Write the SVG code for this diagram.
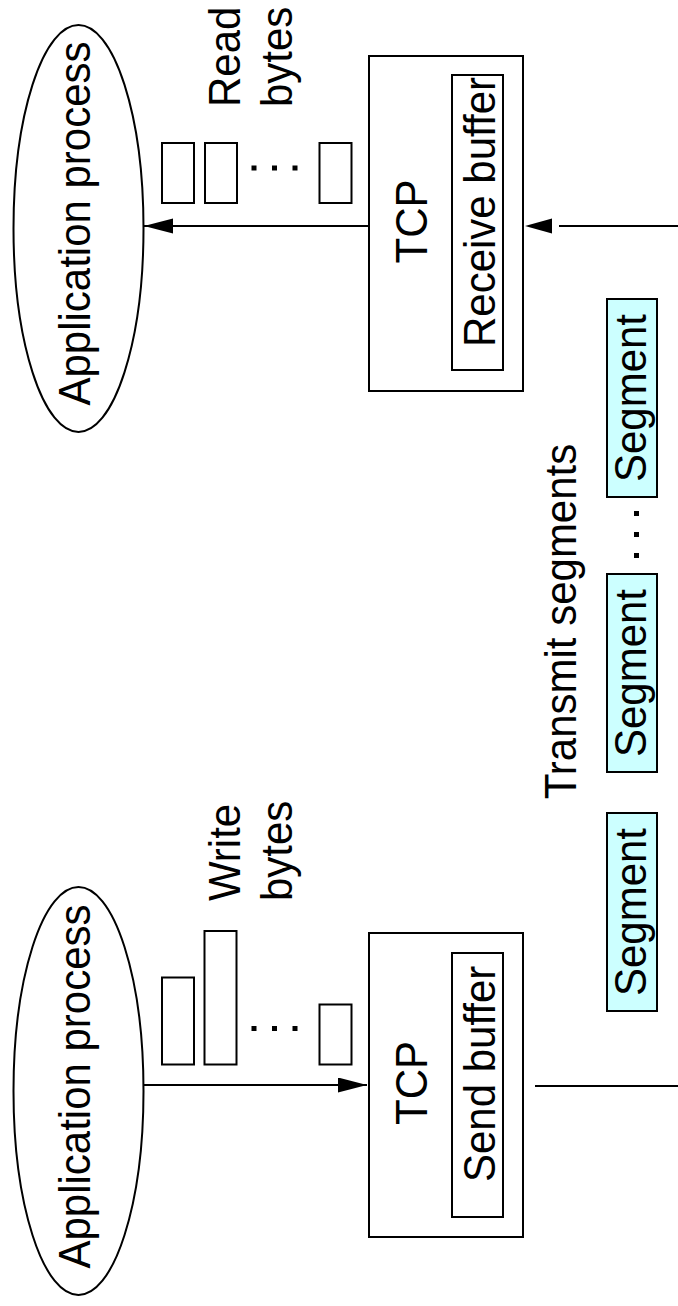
<svg xmlns="http://www.w3.org/2000/svg" width="678" height="1306" viewBox="0 0 678 1306">
  <style>
    text { font-family: "Liberation Sans", Arial, sans-serif; font-size: 42px; fill: #000; }
    .box { fill: #fff; stroke: #000; stroke-width: 2; }
    .seg { fill: #ccffff; stroke: #000; stroke-width: 2; }
    .byte { fill: #fff; stroke: #000; stroke-width: 2; }
    .wire { fill: none; stroke: #000; stroke-width: 2; }
    .dot { fill: #000; }
  </style>
  <defs>
    <marker id="arrow" markerUnits="userSpaceOnUse" markerWidth="30" markerHeight="16" refX="29" refY="7.5" orient="auto">
      <path d="M0,0 L29,7.5 L0,15 Z" fill="#000"/>
    </marker>
  </defs>

  <!-- receiving host (top) -->
  <g id="app-recv">
    <ellipse cx="78.5" cy="228.5" rx="65" ry="203.5" class="box"/>
    <text transform="translate(90,223.5) rotate(-90) scale(1,1.06)" text-anchor="middle">Application process</text>
  </g>
  <g id="tcp-recv">
    <rect x="369" y="56" width="154" height="335" class="box"/>
    <text transform="translate(427,221.5) rotate(-90) scale(1,1.06)" text-anchor="middle">TCP</text>
    <rect x="452" y="75" width="51" height="295" class="box"/>
    <text transform="translate(495,347) rotate(-90) scale(1,1.06)">Receive buffer</text>
  </g>
  <g id="read-bytes">
    <rect x="162" y="143" width="32" height="60" class="byte"/>
    <rect x="205" y="143" width="32" height="60" class="byte"/>
    <rect x="251.5" y="165.5" width="5" height="5" class="dot"/>
    <rect x="272" y="165.5" width="5" height="5" class="dot"/>
    <rect x="292.5" y="165.5" width="5" height="5" class="dot"/>
    <rect x="319.5" y="143" width="32" height="60" class="byte"/>
    <text transform="translate(240,107) rotate(-90) scale(1,1.06)">Read</text>
    <text transform="translate(292,107) rotate(-90) scale(1,1.06)">bytes</text>
  </g>

  <!-- sending host (bottom) -->
  <g id="app-send">
    <ellipse cx="78.5" cy="1091" rx="65" ry="204" class="box"/>
    <text transform="translate(90,1086.5) rotate(-90) scale(1,1.06)" text-anchor="middle">Application process</text>
  </g>
  <g id="tcp-send">
    <rect x="369" y="933" width="154" height="304" class="box"/>
    <text transform="translate(427,1083) rotate(-90) scale(1,1.06)" text-anchor="middle">TCP</text>
    <rect x="452" y="953" width="51" height="264" class="box"/>
    <text transform="translate(495,1182) rotate(-90) scale(1,1.06)">Send buffer</text>
  </g>
  <g id="write-bytes">
    <rect x="162" y="977.5" width="32" height="87" class="byte"/>
    <rect x="204.5" y="931" width="32" height="133.5" class="byte"/>
    <rect x="251.5" y="1026" width="5" height="5" class="dot"/>
    <rect x="272" y="1026" width="5" height="5" class="dot"/>
    <rect x="292.5" y="1026" width="5" height="5" class="dot"/>
    <rect x="319.5" y="1004.5" width="32" height="60" class="byte"/>
    <text transform="translate(240,901) rotate(-90) scale(1,1.06)">Write</text>
    <text transform="translate(292,901) rotate(-90) scale(1,1.06)">bytes</text>
  </g>

  <!-- segments in transit -->
  <g id="segments">
    <text transform="translate(576,621.5) rotate(-90) scale(1,1.06)" text-anchor="middle">Transmit segments</text>
    <rect x="607" y="813" width="50" height="198" class="seg"/>
    <text transform="translate(646,912) rotate(-90) scale(1,1.06)" text-anchor="middle">Segment</text>
    <rect x="607" y="574" width="50" height="198" class="seg"/>
    <text transform="translate(646,673) rotate(-90) scale(1,1.06)" text-anchor="middle">Segment</text>
    <rect x="634" y="511" width="5" height="5" class="dot"/>
    <rect x="634" y="532" width="5" height="5" class="dot"/>
    <rect x="634" y="553" width="5" height="5" class="dot"/>
    <rect x="607" y="299" width="50" height="198" class="seg"/>
    <text transform="translate(646,398) rotate(-90) scale(1,1.06)" text-anchor="middle">Segment</text>
  </g>

  <!-- connectors -->
  <g id="connectors">
    <line x1="369" y1="226" x2="144" y2="226" class="wire" marker-end="url(#arrow)"/>
    <line x1="144" y1="1085" x2="367" y2="1085" class="wire" marker-end="url(#arrow)"/>
    <line x1="678" y1="226" x2="559" y2="226" class="wire"/>
    <path d="M525,226 L552,218.5 L552,233.5 Z" fill="#000"/>
    <line x1="535" y1="1086" x2="678" y2="1086" class="wire"/>
  </g>
</svg>
